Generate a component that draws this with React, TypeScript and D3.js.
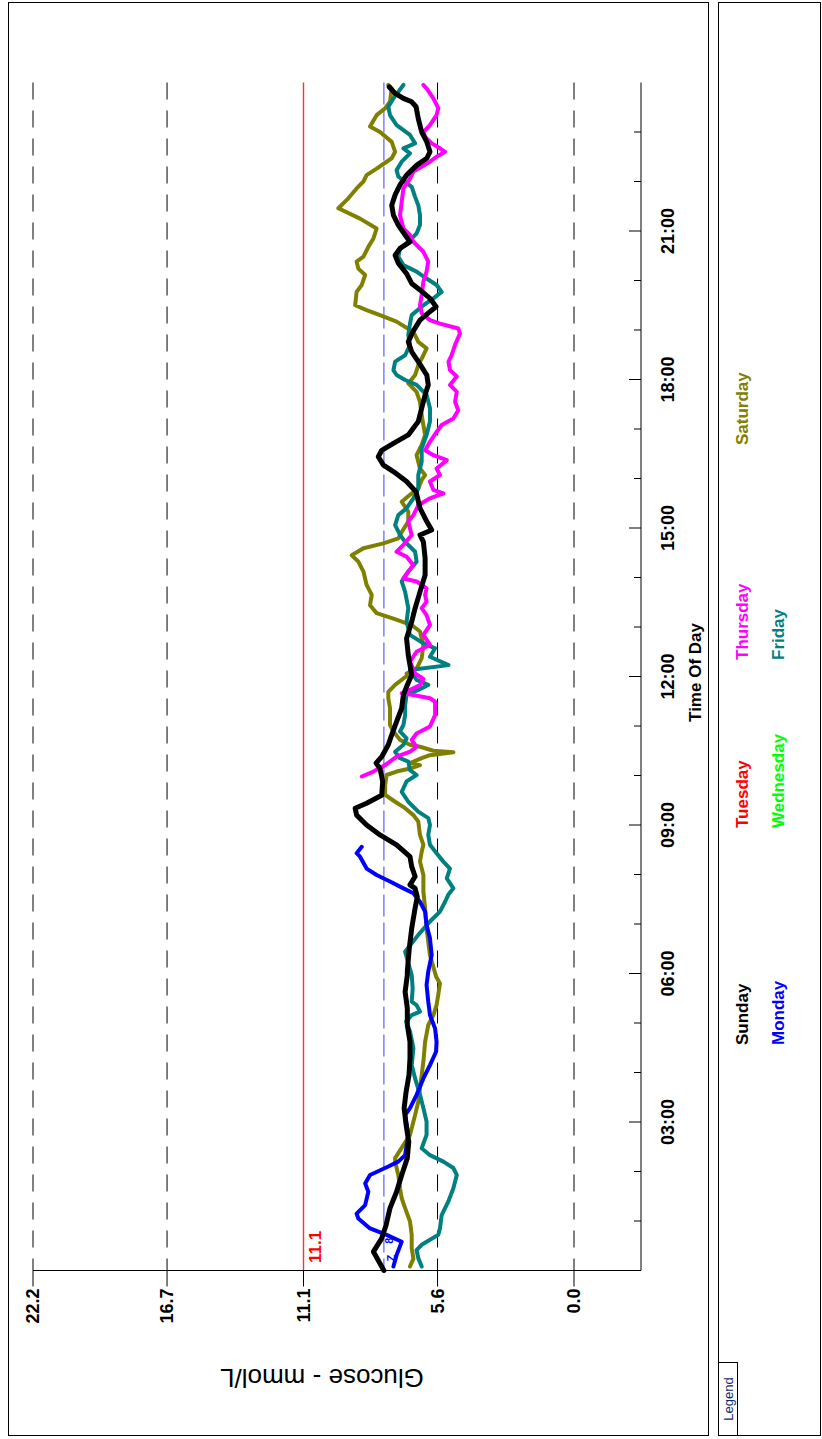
import React from "react";
import * as d3 from "d3";

// ---- data: [hour of day, glucose mmol/L] ----
const sunday: [number, number][] = [
  [0.0, 7.8], [0.38, 8.23], [0.65, 7.89], [0.92, 7.71], [1.26, 7.55], [1.59, 7.28], [1.93, 7.07], [2.27, 6.84], [2.6, 6.78], [2.94, 6.89], [3.28, 6.97], [3.61, 6.89], [3.95, 6.77], [4.29, 6.73], [4.62, 6.73], [4.96, 6.84], [5.3, 6.84], [5.63, 6.93], [5.97, 6.84],
  [6.04, 6.84], [6.51, 6.76], [6.91, 6.66], [7.32, 6.52], [7.55, 6.43], [7.72, 6.52], [7.79, 6.73], [7.96, 6.52], [8.16, 6.66], [8.36, 6.73], [8.6, 7.28], [8.8, 7.96], [9.0, 8.51], [9.2, 8.92], [9.34, 8.98], [9.44, 8.51], [9.6, 7.89], [9.88, 7.85], [10.14, 7.96], [10.25, 8.12], [10.38, 7.89], [10.62, 7.62], [10.82, 7.48], [11.09, 7.28], [11.36, 7.07], [11.63, 7.0], [11.83, 6.84], [12.03, 6.66],
  [12.43, 6.8], [12.77, 6.87], [13.11, 6.66], [13.38, 6.52], [13.71, 6.32], [14.05, 6.11], [14.39, 6.11], [14.72, 6.18], [14.86, 6.32], [14.96, 5.84], [15.13, 6.04], [15.4, 6.32], [15.73, 6.48], [15.94, 6.87], [16.14, 7.41], [16.27, 7.82], [16.44, 8.03], [16.57, 7.89], [16.71, 7.41], [16.88, 6.8], [17.15, 6.39], [17.42, 6.25], [17.69, 6.11], [17.89, 5.98], [18.09, 6.04],
  [18.36, 6.39], [18.56, 6.66], [18.76, 6.8], [18.96, 6.62], [19.2, 6.32], [19.37, 5.91], [19.47, 5.66], [19.64, 5.91], [19.81, 6.32], [19.94, 6.66], [20.14, 6.87], [20.35, 7.21], [20.51, 7.34], [20.65, 7.14], [20.78, 6.73], [20.92, 6.93], [21.12, 7.21], [21.32, 7.41], [21.52, 7.48], [21.73, 7.34], [21.93, 7.14], [22.13, 6.87], [22.33, 6.45], [22.47, 6.04], [22.6, 5.91], [22.8, 6.04], [23.0, 6.25], [23.27, 6.39], [23.51, 6.48], [23.61, 6.66], [23.68, 7.0], [23.78, 7.34], [23.91, 7.58]
];

const monday: [number, number][] = [
  [0.08, 7.41], [0.31, 7.28], [0.58, 7.07], [0.72, 7.69], [0.85, 8.37], [1.05, 8.85], [1.15, 8.92], [1.32, 8.57], [1.59, 8.44], [1.76, 8.57], [1.93, 8.37], [2.1, 7.62], [2.2, 7.21], [2.33, 6.93], [2.74, 6.8], [3.14, 6.93], [3.28, 6.73], [3.55, 6.46], [3.88, 6.18], [4.15, 5.91], [4.42, 5.66], [4.62, 5.64], [4.89, 5.7], [5.16, 5.91], [5.43, 5.98], [5.77, 6.05], [6.04, 5.98], [6.37, 5.84], [6.71, 5.91], [6.98, 6.05], [7.25, 6.11], [7.45, 6.32], [7.62, 6.59], [7.72, 7.0], [7.86, 7.55], [7.99, 8.1], [8.12, 8.51], [8.36, 8.78], [8.43, 8.92], [8.56, 8.71]
];

const tuesday: [number, number][] = [];
const wednesday: [number, number][] = [];

const thursday: [number, number][] = [
  [9.98, 8.71], [10.08, 8.23], [10.21, 7.75], [10.38, 7.28], [10.48, 6.73], [10.58, 6.46], [10.72, 6.66], [10.85, 6.46], [10.99, 5.91], [11.22, 5.7], [11.49, 5.7], [11.56, 5.91], [11.63, 6.66], [11.66, 7.07], [11.76, 6.59], [11.83, 6.32], [11.95, 6.18],
  [12.06, 6.52], [12.3, 6.73], [12.5, 6.46], [12.64, 5.91], [12.84, 6.18], [13.04, 5.91], [13.24, 6.05], [13.38, 6.25], [13.51, 6.05], [13.65, 6.11], [13.78, 6.05], [13.92, 6.46], [13.98, 7.0], [14.12, 6.8], [14.25, 6.59], [14.42, 6.87], [14.52, 7.28], [14.66, 7.0], [14.86, 6.66], [14.99, 6.73], [15.13, 6.8], [15.26, 6.59], [15.46, 6.39], [15.6, 5.91], [15.7, 5.36], [15.77, 5.77], [15.94, 5.91], [16.07, 5.5], [16.2, 5.64], [16.37, 5.22], [16.47, 5.77], [16.57, 6.11], [16.74, 5.91], [16.94, 5.64], [17.08, 5.43], [17.21, 4.95], [17.38, 4.75], [17.55, 4.88], [17.75, 4.81], [17.89, 5.09], [18.06, 4.81],
  [18.19, 5.09], [18.36, 5.15], [18.49, 5.02], [18.7, 4.88], [18.93, 4.68], [19.03, 4.75], [19.13, 5.5], [19.2, 5.91], [19.34, 6.25], [19.5, 6.32], [19.71, 6.25], [19.98, 6.18], [20.18, 6.05], [20.38, 5.98], [20.58, 6.18], [20.78, 6.59], [20.92, 6.73], [21.05, 7.0], [21.32, 7.14], [21.59, 7.07], [21.86, 7.0], [22.06, 6.73], [22.2, 6.59], [22.4, 5.91], [22.5, 5.64], [22.6, 5.29], [22.67, 5.5], [22.77, 5.84], [22.9, 6.11], [23.0, 6.18], [23.14, 5.91], [23.34, 5.64], [23.48, 5.57], [23.68, 5.77], [23.88, 6.05], [23.95, 6.18]
];

const friday: [number, number][] = [
  [0.08, 6.25], [0.25, 6.39], [0.41, 6.46], [0.52, 6.25], [0.62, 5.91], [0.72, 5.57], [0.85, 5.5], [1.12, 5.43], [1.39, 5.16], [1.66, 4.95], [1.93, 4.81], [2.07, 4.95], [2.2, 5.36], [2.33, 5.91], [2.47, 6.25], [2.74, 6.05], [3.01, 6.05], [3.28, 6.18], [3.55, 6.32], [3.88, 6.52], [4.15, 6.66], [4.49, 6.59], [4.83, 6.73], [5.03, 6.89], [5.16, 6.66], [5.23, 6.32], [5.36, 6.46], [5.43, 6.66], [5.7, 6.62], [5.97, 6.66],
  [6.44, 6.93], [6.78, 6.39], [7.05, 5.91], [7.25, 5.5], [7.45, 5.29], [7.59, 5.16], [7.72, 4.95], [7.92, 5.22], [8.12, 5.09], [8.26, 5.36], [8.43, 5.64], [8.6, 5.91], [8.8, 5.98], [9.0, 5.91], [9.14, 5.98], [9.27, 6.39], [9.47, 6.8], [9.67, 7.07], [9.88, 6.87], [10.01, 6.46], [10.11, 6.73], [10.28, 6.8], [10.35, 7.14], [10.48, 7.34], [10.62, 7.0], [10.75, 6.87], [10.89, 7.14], [11.02, 7.0], [11.22, 6.93], [11.42, 6.93], [11.63, 6.87], [11.73, 6.39], [11.83, 5.98], [11.93, 6.46], [12.03, 6.59],
  [12.13, 6.73], [12.23, 5.15], [12.4, 5.91], [12.57, 5.7], [12.67, 6.18], [12.84, 6.73], [13.11, 6.87], [13.38, 6.8], [13.71, 6.93], [13.92, 7.07], [14.12, 6.8], [14.32, 6.46], [14.52, 6.52], [14.72, 6.93], [14.86, 7.14], [15.06, 7.34], [15.26, 7.21], [15.4, 6.87], [15.6, 6.59], [15.8, 6.39], [16.07, 6.39], [16.34, 6.25], [16.61, 6.25], [16.88, 6.05], [17.15, 5.91], [17.42, 5.91], [17.69, 6.05], [17.89, 6.46], [17.99, 6.93], [18.09, 7.28],
  [18.19, 7.41], [18.36, 7.34], [18.49, 6.93], [18.7, 6.73], [18.9, 6.8], [19.13, 6.73], [19.3, 6.66], [19.5, 6.18], [19.64, 5.77], [19.77, 5.43], [19.91, 5.64], [20.04, 6.05], [20.18, 6.46], [20.31, 7.0], [20.48, 7.21], [20.65, 7.14], [20.78, 6.8], [20.95, 6.46], [21.12, 6.32], [21.32, 6.32], [21.52, 6.39], [21.69, 6.52], [21.89, 6.66], [21.99, 6.93], [22.1, 7.21], [22.23, 7.28], [22.4, 7.07], [22.57, 6.73], [22.67, 7.0], [22.77, 6.52], [22.94, 6.73], [23.14, 7.28], [23.34, 7.55], [23.51, 7.62], [23.68, 7.41], [23.81, 7.21], [23.95, 7.0]
];

const saturday: [number, number][] = [
  [0.08, 6.73], [0.24, 6.59], [0.45, 6.66], [0.72, 6.66], [0.99, 6.73], [1.26, 6.93], [1.46, 7.07], [1.66, 7.14], [1.93, 7.21], [2.2, 7.34], [2.27, 7.34], [2.74, 6.73], [3.14, 6.52], [3.41, 6.39], [3.68, 6.32], [3.95, 6.25], [4.22, 6.18], [4.62, 6.11], [4.96, 5.98], [5.16, 5.77], [5.36, 5.64], [5.57, 5.57], [5.8, 5.5], [5.94, 5.66],
  [6.37, 5.91], [6.91, 6.05], [7.32, 6.11], [7.65, 6.18], [7.99, 6.18], [8.26, 6.32], [8.46, 6.25], [8.6, 6.18], [8.8, 6.32], [9.07, 6.39], [9.2, 6.59], [9.34, 6.93], [9.47, 7.34], [9.61, 7.75], [9.81, 7.75], [10.01, 7.69], [10.08, 7.28], [10.14, 6.73], [10.21, 6.32], [10.25, 6.73], [10.35, 6.25], [10.41, 5.91], [10.47, 4.95], [10.5, 5.77], [10.58, 6.32], [10.62, 6.73], [10.72, 7.14], [10.89, 7.41], [11.02, 7.55], [11.36, 7.55], [11.56, 7.62], [11.69, 7.62], [11.83, 7.34], [11.96, 7.0], [12.03, 6.8],
  [12.06, 6.87], [12.16, 6.46], [12.37, 6.25], [12.64, 6.18], [12.91, 6.32], [13.04, 6.66], [13.17, 7.41], [13.28, 8.1], [13.44, 8.37], [13.65, 8.3], [13.85, 8.51], [14.12, 8.64], [14.32, 8.85], [14.45, 9.12], [14.59, 8.64], [14.69, 7.82], [14.79, 7.21], [14.92, 7.07], [15.13, 6.8], [15.33, 6.8], [15.53, 7.07], [15.67, 6.73], [15.8, 6.39], [15.97, 6.25], [16.07, 6.11], [16.2, 6.32], [16.47, 6.46], [16.68, 6.25], [16.88, 6.11], [17.08, 6.18], [17.28, 6.25], [17.55, 6.32], [17.75, 6.46], [17.92, 6.8], [18.09, 6.52],
  [18.29, 6.39], [18.49, 6.18], [18.63, 6.05], [18.76, 6.39], [18.96, 6.59], [19.17, 7.28], [19.3, 7.96], [19.4, 8.51], [19.5, 8.98], [19.77, 8.92], [19.91, 8.71], [20.11, 8.57], [20.24, 8.85], [20.38, 8.92], [20.48, 8.64], [20.68, 8.44], [20.85, 8.23], [21.05, 8.1], [21.25, 8.78], [21.46, 9.67], [21.66, 9.26], [21.86, 8.92], [22.0, 8.64], [22.13, 8.51], [22.26, 8.1], [22.47, 7.48], [22.6, 7.34], [22.8, 7.48], [23.0, 7.96], [23.11, 8.37], [23.34, 8.1], [23.48, 7.75], [23.61, 7.55], [23.88, 7.48], [23.95, 7.62]
];

const glucoseTicks = [0.0, 5.6, 11.1, 16.7, 22.2];
const dashedGrid = [0.0, 5.6, 16.7, 22.2];
const highLimit = 11.1;
const targetLine = 7.8;
const timeMajor = [3, 6, 9, 12, 15, 18, 21];
const timeMinor = d3.range(1, 24);
const timeLabels = ["03:00", "06:00", "09:00", "12:00", "15:00", "18:00", "21:00"];

const days = ["Sunday", "Monday", "Tuesday", "Wednesday", "Thursday", "Friday", "Saturday"];
const dayColors = ["#000000", "#0000ff", "#ff0000", "#00ff00", "#ff00ff", "#008080", "#808000"];
const seriesData = [sunday, monday, tuesday, wednesday, thursday, friday, saturday];

// small event markers near the start of Monday's trace: [hour, mmol/L, label]
const markers: [number, number, string][] = [[0.6, 7.6, "8"], [0.25, 7.5, "Z"]];

export default function App() {
  const W = 822, H = 1439;
  const tScale = d3.scaleLinear().domain([0, 24]).range([1270.5, 82.5]);
  const gScale = d3.scaleLinear().domain([0, 22.2]).range([574, 33]);
  const line = d3.line<[number, number]>().x(d => gScale(d[1])).y(d => tScale(d[0]));
  const axisX = 641;
  const axisY = 1270.5;
  const font = "Arial, 'Liberation Sans', sans-serif";

  // legend layout (column x and text start y per day)
  const legendX = [742, 778, 742, 778, 742, 778, 742];
  const legendY = [1045, 1045, 828, 828, 660, 660, 445];

  const drawOrder = [6, 5, 4, 1, 0];

  return (
    <svg width={W} height={H} style={{ position: "absolute", left: 0, top: 0, background: "#fff" }} fontFamily={font}>
      <rect x={0} y={0} width={W} height={H} fill="#fff" />
      {/* panels */}
      <rect x={8.5} y={2.5} width={700} height={1433} fill="none" stroke="#000" strokeWidth={1} />
      <rect x={718.5} y={2.5} width={102} height={1433} fill="none" stroke="#000" strokeWidth={1} />
      <rect x={718.5} y={1362.5} width={19} height={73} fill="none" stroke="#000" strokeWidth={1} />
      <text transform={`translate(728.5,1399) rotate(-90)`} textAnchor="middle" dominantBaseline="central" fontSize={13} fill="#0a2a6a">Legend</text>

      {/* grid */}
      {dashedGrid.map(g => (
        <line key={g} x1={gScale(g)} x2={gScale(g)} y1={tScale(24)} y2={axisY} stroke="#000" strokeWidth={1} strokeDasharray="17,11" />
      ))}
      <line x1={gScale(highLimit)} x2={gScale(highLimit)} y1={tScale(24)} y2={axisY} stroke="#ff3030" strokeWidth={1.4} />
      <line x1={gScale(targetLine)} x2={gScale(targetLine)} y1={tScale(24)} y2={axisY} stroke="#4040ff" strokeWidth={1} strokeDasharray="22,6" />
      <text transform={`translate(${gScale(highLimit) + 12},1263) rotate(-90)`} textAnchor="start" dominantBaseline="central" fontSize={17} fontWeight="bold" fill="#ff0000">11.1</text>

      {/* series */}
      {drawOrder.map(i => seriesData[i].length > 0 && (
        <path key={days[i]} d={line(seriesData[i]) || ""} fill="none" stroke={dayColors[i]} strokeWidth={i === 0 ? 5 : 4} strokeLinejoin="round" strokeLinecap="round" />
      ))}
      {markers.map(([h, g, s]) => (
        <text key={s} transform={`translate(${gScale(g)},${tScale(h)}) rotate(-90)`} textAnchor="middle" dominantBaseline="central" fontSize={11} fontWeight="bold" fill="#0000ff">{s}</text>
      ))}

      {/* axes */}
      <line x1={gScale(22.2)} x2={axisX} y1={axisY} y2={axisY} stroke="#000" strokeWidth={1} />
      <line x1={axisX} x2={axisX} y1={tScale(24)} y2={axisY} stroke="#000" strokeWidth={1} />
      {glucoseTicks.map(g => (
        <g key={g}>
          <line x1={gScale(g)} x2={gScale(g)} y1={axisY} y2={axisY + 16} stroke="#000" />
          <text transform={`translate(${gScale(g)},${axisY + 18}) rotate(-90)`} textAnchor="end" dominantBaseline="central" fontSize={18} fontWeight="bold">{g.toFixed(1)}</text>
        </g>
      ))}
      {timeMinor.map(h => (
        <line key={h} x1={axisX - (h % 3 === 0 ? 12 : 7)} x2={axisX} y1={tScale(h)} y2={tScale(h)} stroke="#000" />
      ))}
      {timeMajor.map((h, i) => (
        <text key={h} transform={`translate(${axisX + 27},${tScale(h)}) rotate(-90)`} textAnchor="middle" dominantBaseline="central" fontSize={18} fontWeight="bold">{timeLabels[i]}</text>
      ))}
      <text transform={`translate(${axisX + 54},${tScale(12) - 4}) rotate(-90)`} textAnchor="middle" dominantBaseline="central" fontSize={17} fontWeight="bold">Time Of Day</text>
      <text transform={`translate(322,1378) rotate(180)`} textAnchor="middle" dominantBaseline="central" fontSize={26}>Glucose - mmol/L</text>

      {/* legend */}
      {days.map((d, i) => (
        <text key={d} transform={`translate(${legendX[i]},${legendY[i]}) rotate(-90)`} textAnchor="start" dominantBaseline="central" fontSize={17} fontWeight="bold" fill={dayColors[i]}>{d}</text>
      ))}
    </svg>
  );
}
